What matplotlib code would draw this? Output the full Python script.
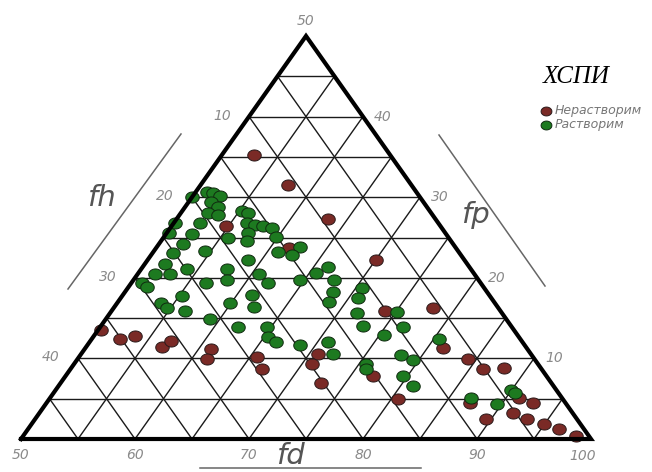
import matplotlib
matplotlib.use('Agg')
import matplotlib.pyplot as plt
import numpy as np

# точки: fd и fp (fh = 100 - fd - fp)
insol_fd = [52.8, 57.7, 63.3, 54.8, 61.7, 70.0, 74.0, 78.0, 81.4, 84.3, 86.2, 88.0,
            77.0, 80.6, 87.1, 89.5, 91.1, 92.7, 91.6, 93.1, 94.9, 96.6, 98.5,
            50.3, 52.5, 53.6, 56.7, 57.1, 61.1, 61.4, 65.6, 66.8, 70.8, 70.9, 72.9]
insol_fp = [35.2, 31.5, 27.3, 26.4, 23.7, 22.2, 15.9, 16.2, 11.3, 9.9, 8.7, 8.8,
            7.8, 5.0, 4.5, 2.5, 5.1, 4.5, 3.2, 2.5, 1.9, 1.2, 0.4,
            13.5, 12.4, 12.8, 11.4, 12.2, 11.2, 9.9, 10.2, 8.7, 10.5, 9.3, 6.9]

sol_fd = [50.0, 51.0, 51.6, 52.4, 52.0, 52.9, 52.4, 53.4, 52.3, 52.3, 52.1, 51.8,
          51.8, 51.5, 51.0, 51.6, 52.8, 54.0, 54.5, 50.2, 55.7, 55.2, 55.9, 56.4,
          57.3, 58.0, 58.9, 59.8, 57.1, 57.5, 57.5, 58.2, 58.8, 60.6, 62.0, 60.9,
          62.6, 62.4, 64.6, 65.6, 66.3, 67.6, 68.3, 68.5, 70.6, 70.8, 71.7, 73.0,
          70.9, 72.1, 53.8, 54.7, 56.4, 55.3, 56.6, 59.9, 61.3, 62.2, 59.1, 62.1,
          64.6, 65.3, 66.4, 68.6, 75.4, 75.1, 76.6, 80.5, 78.1, 79.5, 75.6, 75.9,
          79.6, 81.1, 86.9, 89.6, 89.9, 90.5, 50.1]
sol_fp = [30.0, 30.6, 30.5, 30.1, 29.4, 28.8, 28.0, 27.8, 26.8, 25.4, 24.2, 23.1,
          21.7, 20.5, 19.3, 18.9, 20.5, 21.1, 23.3, 25.6, 24.9, 28.3, 28.0, 26.8,
          26.5, 26.4, 26.2, 25.1, 25.6, 24.6, 21.1, 19.7, 22.2, 20.5, 19.3, 23.2,
          23.8, 22.8, 19.7, 20.6, 21.3, 19.7, 18.2, 17.0, 18.7, 17.5, 15.6, 14.0,
          12.0, 10.5, 16.9, 16.2, 15.9, 17.7, 19.3, 16.9, 17.9, 16.4, 14.9, 13.9,
          13.9, 12.7, 12.0, 11.7, 12.9, 15.8, 13.9, 12.4, 10.4, 9.8, 9.3, 8.7,
          7.8, 6.6, 5.1, 4.3, 6.1, 5.7, 26.8]

fd_ticks = [50, 60, 70, 80, 90, 100]
fh_ticks = [10, 20, 30, 40]
fp_ticks = [40, 30, 20, 10]


def to_xy(fd, fp):
    fd = np.asarray(fd, dtype=float)
    fp = np.asarray(fp, dtype=float)
    return (fd - 50) / 50 + fp / 100, fp / 50


fig = plt.figure(figsize=(6.52, 4.72), dpi=100)
ax = fig.add_axes([0, 0, 1, 1])
ax.set_xlim(-21 / 570, 631 / 570)
ax.set_ylim(-33 / 403, 439 / 403)
ax.axis('off')

# сетка через каждые 5
for v in range(5, 50, 5):
    x, y = to_xy([50, 100 - v], [v, v])          # fp = const
    ax.plot(x, y, color='#1a1a1a', lw=1.0, zorder=1)
    x, y = to_xy([100 - v, 50], [0, 50 - v])     # fh = const
    ax.plot(x, y, color='#1a1a1a', lw=1.0, zorder=1)
    x, y = to_xy([50 + v, 50 + v], [0, 50 - v])  # fd = const
    ax.plot(x, y, color='#1a1a1a', lw=1.0, zorder=1)

x, y = to_xy([50, 100, 50, 50], [0, 0, 50, 0])
ax.plot(x, y, color='black', lw=3.0, zorder=4, solid_joinstyle='miter')

t = np.linspace(0, 2 * np.pi, 40)
ell = np.column_stack([np.cos(t), 0.82 * np.sin(t)])

brown = '#7a2a26'
green = '#1d7a20'
x, y = to_xy(insol_fd, insol_fp)
ax.scatter(x, y, marker=ell, s=95, color=brown, edgecolors='#2a1a1a', linewidths=0.7,
           zorder=3, label='Нерастворим')
x, y = to_xy(sol_fd, sol_fp)
ax.scatter(x, y, marker=ell, s=95, color=green, edgecolors='#102a10', linewidths=0.7,
           zorder=3, label='Растворим')

tick_font = dict(family=['Liberation Sans Narrow', 'DejaVu Sans'], style='italic',
                 color='#8a8a8a', fontsize=10, ha='center', va='center')

for v in fd_ticks:
    dx, dy = (-8, -17) if v == 100 else (0, -16)
    ax.annotate(str(v), to_xy(v, 0), xytext=(dx, dy), textcoords='offset pixels', **tick_font)
for v in fh_ticks:
    ax.annotate(str(v), to_xy(50, 50 - v), xytext=(-27, 1), textcoords='offset pixels', **tick_font)
for v in fp_ticks:
    ax.annotate(str(v), to_xy(100 - v, v), xytext=(20, 0), textcoords='offset pixels', **tick_font)
ax.annotate('50', to_xy(50, 50), xytext=(0, 15), textcoords='offset pixels', **tick_font)

lab_font = dict(family=['Liberation Sans Narrow', 'DejaVu Sans'], style='italic',
                color='#555555', fontsize=21, ha='center', va='center')
fig.text(101 / 652, 1 - 198 / 472, 'fh', **lab_font)
fig.text(475 / 652, 1 - 215 / 472, 'fp', **lab_font)
fig.text(290 / 652, 1 - 456 / 472, 'fd', **lab_font)

line_kw = dict(color='#666666', lw=1.1, transform=fig.transFigure)
fig.add_artist(plt.Line2D([68 / 652, 181 / 652], [1 - 289 / 472, 1 - 134 / 472], **line_kw))
fig.add_artist(plt.Line2D([439 / 652, 545 / 652], [1 - 135 / 472, 1 - 286 / 472], **line_kw))
fig.add_artist(plt.Line2D([200 / 652, 421 / 652], [1 - 468 / 472, 1 - 468 / 472], **line_kw))

fig.text(576 / 652, 1 - 77 / 472, 'ХСПИ', family='Liberation Serif', style='italic',
         fontsize=18, color='black', ha='center', va='center')

leg = ax.legend(loc='upper left', bbox_to_anchor=(533 / 652, 1 - 98 / 472),
                bbox_transform=fig.transFigure, frameon=False, handletextpad=0.2,
                labelspacing=0.05, borderpad=0, handlelength=1.0, markerscale=0.8,
                prop=dict(family=['Liberation Sans Narrow', 'DejaVu Sans'], style='italic', size=9))
for txt in leg.get_texts():
    txt.set_color('#777777')

fig.savefig('out.png', dpi=100)
